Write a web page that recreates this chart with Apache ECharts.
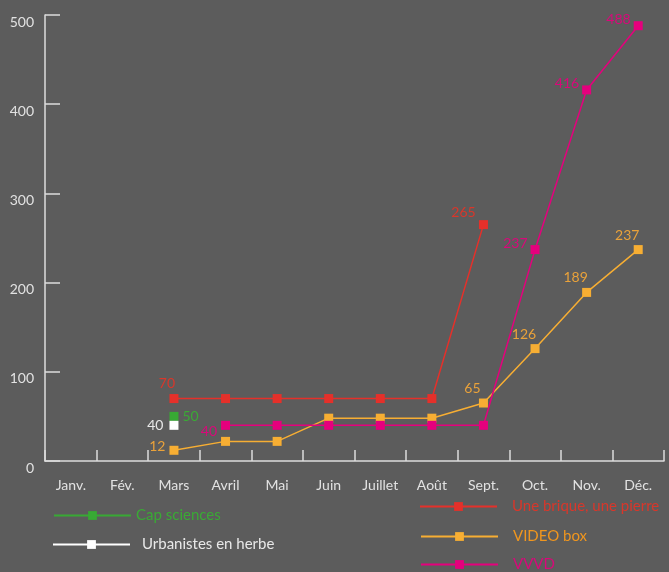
<!DOCTYPE html>
<html>
<head>
<meta charset="utf-8">
<script src="https://cdn.jsdelivr.net/npm/echarts@6/dist/echarts.min.js"></script>
<style>
html,body{margin:0;padding:0;background:#5c5c5c;}
#main{width:669px;height:572px;}
</style>
</head>
<body>
<div id="main"></div>
<script>
var months = ['Janv.', 'Fév.', 'Mars', 'Avril', 'Mai', 'Juin', 'Juillet', 'Août', 'Sept.', 'Oct.', 'Nov.', 'Déc.'];
var capSciences = [null, null, 50, null, null, null, null, null, null, null, null, null];
var urbanistes = [null, null, 40, null, null, null, null, null, null, null, null, null];
var brique = [null, null, 70, 70, 70, 70, 70, 70, 265, null, null, null];
var videoBox = [null, null, 12, 22, 22, 48, 48, 48, 65, 126, 189, 237];
var vvvd = [null, null, null, 40, 40, 40, 40, 40, 40, 237, 416, 488];
var yTicks = [0, 100, 200, 300, 400, 500];

// which points carry a value label
var capLabelIdx = [2];
var urbLabelIdx = [2];
var briqueLabelIdx = [2, 8];
var videoLabelIdx = [2, 8, 9, 10, 11];
var vvvdLabelIdx = [3, 9, 10, 11];

var FONT = 'Lato';
var C = {
  green: '#38a934', white: '#ffffff', red: '#e5302a', orange: '#f7ae33', pink: '#e5007d',
  redTxt: '#d8372b', orangeTxt: '#eaa23a', pinkTxt: '#d9087a', greenTxt: '#3aaa35', whiteTxt: '#e8e8e8'
};

function build(values, labelIdx, labelFn) {
  return values.map(function (v, i) {
    if (v === null) return '-';
    var o = { value: v };
    if (labelIdx.indexOf(i) >= 0) o.label = Object.assign({ show: true }, labelFn(i, v));
    return o;
  });
}

function mkSeries(name, color, txtColor, data) {
  return {
    name: name, type: 'line', data: data, symbol: 'rect', symbolSize: 9,
    showAllSymbol: true, connectNulls: false,
    lineStyle: { color: color, width: 1.5 },
    itemStyle: { color: color },
    label: { show: false, color: txtColor, fontFamily: FONT, fontSize: 14 },
    emphasis: { disabled: true }
  };
}

var series = [
  mkSeries('Cap sciences', C.green, C.greenTxt, build(capSciences, capLabelIdx, function () {
    return { position: 'right', distance: 4, color: C.greenTxt };
  })),
  mkSeries('Urbanistes en herbe', C.white, C.whiteTxt, build(urbanistes, urbLabelIdx, function () {
    return { position: 'left', distance: 6, color: C.whiteTxt };
  })),
  mkSeries('Une brique, une pierre', C.red, C.redTxt, build(brique, briqueLabelIdx, function (i) {
    return i === 2 ? { position: 'top', offset: [-7, 1], color: C.redTxt } : { position: 'top', offset: [-20, 4], color: C.redTxt };
  })),
  mkSeries('VIDEO box', C.orange, C.orangeTxt, build(videoBox, videoLabelIdx, function (i) {
    return i === 2 ? { position: 'left', distance: 4, offset: [0, -4], color: C.orangeTxt } : { position: 'top', offset: [-11, 2], color: C.orangeTxt };
  })),
  mkSeries('VVVD', C.pink, C.pinkTxt, build(vvvd, vvvdLabelIdx, function (i) {
    return i === 3 ? { position: 'left', distance: 4, offset: [0, 6], color: C.pinkTxt } : { position: 'left', distance: 3, offset: [0, -6], color: C.pinkTxt };
  }))
];

function mkLegend(name, left, top, txtColor, textPad) {
  return {
    data: [name], left: left, top: top, orient: 'vertical', padding: 0,
    itemWidth: 77, itemHeight: 11, selectedMode: false,
    textStyle: { color: txtColor, fontFamily: FONT, fontSize: 15, padding: [0, 0, 0, textPad] }
  };
}

var chart = echarts.init(document.getElementById('main'));
chart.setOption({
  backgroundColor: '#5c5c5c',
  animation: false,
  grid: { left: 45, right: 5, top: 15, bottom: 111, containLabel: false },
  legend: [
    mkLegend('Cap sciences', 53, 508, C.greenTxt, 0),
    mkLegend('Urbanistes en herbe', 52, 537, C.whiteTxt, 7),
    mkLegend('Une brique, une pierre', 419, 499, C.redTxt, 10),
    mkLegend('VIDEO box', 420, 529, '#f0961e', 10),
    mkLegend('VVVD', 420, 557, C.pinkTxt, 10)
  ],
  xAxis: {
    type: 'category', data: months, boundaryGap: true,
    axisLine: { show: true, lineStyle: { color: '#dcdcdc', width: 1.5 } },
    axisTick: { show: true, inside: true, interval: 0, length: 11, lineStyle: { color: '#dcdcdc', width: 1.5 } },
    axisLabel: { color: '#e2e2e2', fontFamily: FONT, fontSize: 14, margin: 17 }
  },
  yAxis: {
    type: 'value', min: yTicks[0], max: yTicks[yTicks.length - 1], interval: 100,
    splitLine: { show: false },
    axisLine: { show: true, lineStyle: { color: '#dcdcdc', width: 1.5 } },
    axisTick: { show: true, inside: true, length: 15, lineStyle: { color: '#dcdcdc', width: 1.5 } },
    axisLabel: { color: '#e2e2e2', fontFamily: FONT, fontSize: 14, margin: 11, verticalAlign: 'top', padding: [0, 0, 0, 0] }
  },
  series: series
});
</script>
</body>
</html>
